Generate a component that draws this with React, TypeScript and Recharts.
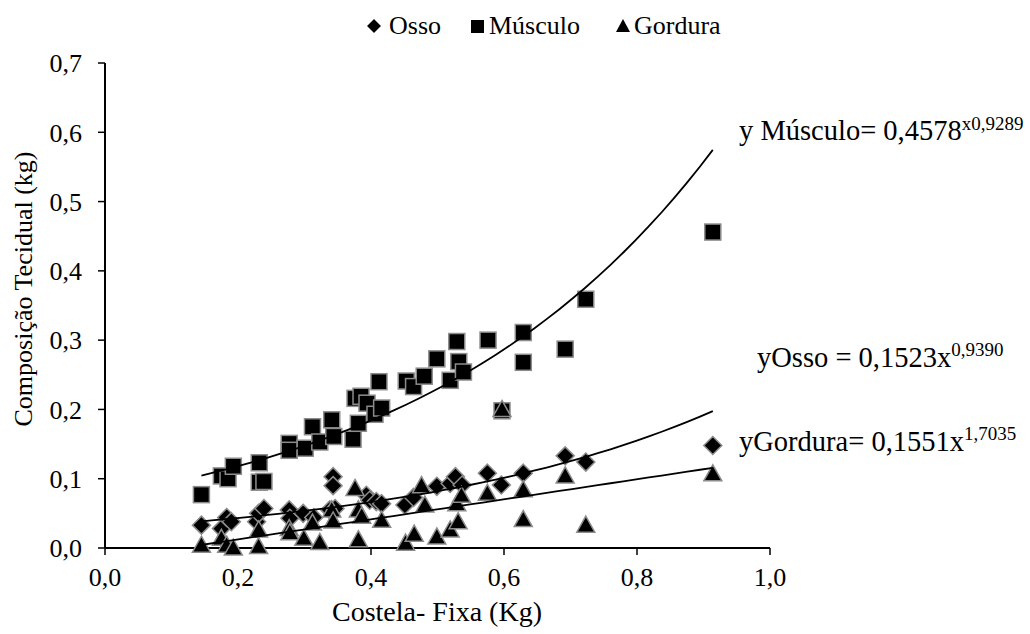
import React from 'react';
import { ScatterChart, Scatter, XAxis, YAxis } from 'recharts';

const FONT = 'Liberation Serif, DejaVu Serif, Times New Roman, serif';

// [Costela-Fixa (kg), tecido (kg)]
const osso: [number, number][] = [
  [0.145, 0.033], [0.175, 0.028], [0.183, 0.044], [0.19, 0.038], [0.228, 0.038],
  [0.231, 0.05], [0.239, 0.057], [0.277, 0.055], [0.278, 0.043], [0.298, 0.05],
  [0.314, 0.044], [0.338, 0.055], [0.343, 0.103], [0.343, 0.09], [0.346, 0.057],
  [0.393, 0.076], [0.398, 0.069], [0.408, 0.067], [0.416, 0.064], [0.451, 0.062],
  [0.464, 0.073], [0.499, 0.089], [0.519, 0.093], [0.527, 0.103], [0.537, 0.091],
  [0.575, 0.108], [0.596, 0.091], [0.629, 0.108], [0.692, 0.133], [0.723, 0.124],
  [0.914, 0.148],
];

const musculo: [number, number][] = [
  [0.145, 0.077], [0.175, 0.104], [0.185, 0.1], [0.193, 0.118], [0.232, 0.123],
  [0.232, 0.095], [0.239, 0.096], [0.277, 0.151], [0.277, 0.141], [0.301, 0.144],
  [0.312, 0.175], [0.323, 0.153], [0.341, 0.185], [0.344, 0.161], [0.373, 0.157],
  [0.381, 0.18], [0.376, 0.216], [0.385, 0.219], [0.394, 0.209], [0.406, 0.193],
  [0.416, 0.202], [0.412, 0.24], [0.453, 0.241], [0.464, 0.233], [0.48, 0.248],
  [0.499, 0.273], [0.519, 0.242], [0.532, 0.269], [0.539, 0.254], [0.529, 0.298],
  [0.576, 0.3], [0.597, 0.198], [0.629, 0.311], [0.629, 0.268], [0.692, 0.287],
  [0.723, 0.359], [0.914, 0.456],
];

const gordura: [number, number][] = [
  [0.145, 0.004], [0.175, 0.014], [0.183, 0.004], [0.193, 0.0], [0.231, 0.026],
  [0.231, 0.002], [0.277, 0.028], [0.278, 0.022], [0.299, 0.014], [0.312, 0.036],
  [0.323, 0.008], [0.341, 0.055], [0.343, 0.039], [0.376, 0.086], [0.381, 0.055],
  [0.386, 0.046], [0.381, 0.012], [0.416, 0.04], [0.452, 0.007], [0.465, 0.02],
  [0.476, 0.09], [0.481, 0.062], [0.499, 0.016], [0.519, 0.026], [0.531, 0.038],
  [0.529, 0.064], [0.536, 0.076], [0.575, 0.079], [0.597, 0.2], [0.629, 0.084],
  [0.629, 0.041], [0.692, 0.104], [0.723, 0.033], [0.914, 0.107],
];

const xTicks = [0, 0.2, 0.4, 0.6, 0.8, 1.0];
const yTicks = [0, 0.1, 0.2, 0.3, 0.4, 0.5, 0.6, 0.7];

const toPts = (arr: [number, number][]) => arr.map(([x, y]) => ({ x, y }));

// least squares fits, like the spreadsheet trendlines
function linFit(arr: [number, number][]) {
  const n = arr.length;
  let sx = 0, sy = 0, sxx = 0, sxy = 0;
  arr.forEach(([x, y]) => { sx += x; sy += y; sxx += x * x; sxy += x * y; });
  const b = (n * sxy - sx * sy) / (n * sxx - sx * sx);
  const a = (sy - b * sx) / n;
  return (x: number) => a + b * x;
}

function expFit(arr: [number, number][]) {
  const logged = arr.filter(([, y]) => y > 0).map(([x, y]) => [x, Math.log(y)] as [number, number]);
  const f = linFit(logged);
  return (x: number) => Math.exp(f(x));
}

function trend(arr: [number, number][], f: (x: number) => number, steps = 40) {
  const xs = arr.map((p) => p[0]);
  const lo = Math.min(...xs);
  const hi = Math.max(...xs);
  return Array.from({ length: steps + 1 }, (_, i) => {
    const x = lo + ((hi - lo) * i) / steps;
    return { x, y: f(x) };
  });
}

const trendOsso = trend(osso, expFit(osso));
const trendMusculo = trend(musculo, expFit(musculo));
const trendGordura = trend(gordura, linFit(gordura));

const EDGE = '#8c8c8c';

const Diamond = (p: any) => (
  <polygon
    points={`${p.cx},${p.cy - 9} ${p.cx + 9},${p.cy} ${p.cx},${p.cy + 9} ${p.cx - 9},${p.cy}`}
    fill="#000" stroke={EDGE} strokeWidth={1.5}
  />
);
const Square = (p: any) => (
  <rect x={p.cx - 8} y={p.cy - 8} width={16} height={16} fill="#000" stroke={EDGE} strokeWidth={1.5} />
);
const Triangle = (p: any) => (
  <polygon
    points={`${p.cx},${p.cy - 9} ${p.cx + 9},${p.cy + 7} ${p.cx - 9},${p.cy + 7}`}
    fill="#000" stroke={EDGE} strokeWidth={1.5}
  />
);
const Nothing = () => <g />;

const fmt = (v: number) => v.toFixed(1).replace('.', ',');

export default function App() {
  return (
    <div style={{ position: 'absolute', left: 0, top: 0, width: 1030, height: 634, background: '#fff' }}>
      <ScatterChart width={1030} height={634} margin={{ top: 63, right: 260, bottom: 0, left: 0 }}>
        <XAxis
          type="number" dataKey="x" domain={[0, 1]} ticks={xTicks} tickFormatter={fmt}
          height={86} tickSize={7} tickMargin={13}
          axisLine={{ stroke: '#000', strokeWidth: 2 }} tickLine={{ stroke: '#000', strokeWidth: 1.5 }}
          tick={{ fill: '#000', fontSize: 26, fontFamily: FONT }}
        />
        <YAxis
          type="number" dataKey="y" domain={[0, 0.7]} ticks={yTicks} tickFormatter={fmt}
          width={105} tickSize={7} tickMargin={16}
          axisLine={{ stroke: '#000', strokeWidth: 2 }} tickLine={{ stroke: '#000', strokeWidth: 1.5 }}
          tick={{ fill: '#000', fontSize: 26, fontFamily: FONT }}
        />
        <Scatter name="Osso" data={toPts(osso)} shape={Diamond} isAnimationActive={false} />
        <Scatter name="Músculo" data={toPts(musculo)} shape={Square} isAnimationActive={false} />
        <Scatter name="Gordura" data={toPts(gordura)} shape={Triangle} isAnimationActive={false} />
        <Scatter data={trendMusculo} line={{ stroke: '#000', strokeWidth: 1.8 }} lineType="joint" shape={Nothing} isAnimationActive={false} />
        <Scatter data={trendOsso} line={{ stroke: '#000', strokeWidth: 1.8 }} lineType="joint" shape={Nothing} isAnimationActive={false} />
        <Scatter data={trendGordura} line={{ stroke: '#000', strokeWidth: 1.8 }} lineType="joint" shape={Nothing} isAnimationActive={false} />
      </ScatterChart>
      <svg width={1030} height={634} style={{ position: 'absolute', left: 0, top: 0, pointerEvents: 'none', fontFamily: FONT }}
        fontSize={26} fill="#000">
        {/* legend */}
        <polygon points="374,19 381,26 374,33 367,26" fill="#000" stroke={EDGE} strokeWidth={1} />
        <text x={389} y={34}>Osso</text>
        <rect x={471} y={20} width={13} height={13} fill="#000" />
        <text x={489} y={34}>Músculo</text>
        <polygon points="623,19 630,32 616,32" fill="#000" />
        <text x={634} y={34}>Gordura</text>
        {/* equations */}
        <text x={739} y={140} fontSize={28.5}>y Músculo= 0,4578<tspan dy={-10} fontSize={19}>x0,9289</tspan></text>
        <text x={757} y={367} fontSize={28.5}>yOsso = 0,1523x<tspan dy={-11} fontSize={19}>0,9390</tspan></text>
        <text x={739} y={451} fontSize={28.5}>yGordura= 0,1551x<tspan dy={-11} fontSize={19}>1,7035</tspan></text>
        {/* axis titles */}
        <text x={437} y={621} textAnchor="middle" fontSize={28}>Costela- Fixa (Kg)</text>
        <text transform="translate(32,289) rotate(-90)" textAnchor="middle">Composição Tecidual (kg)</text>
      </svg>
    </div>
  );
}
